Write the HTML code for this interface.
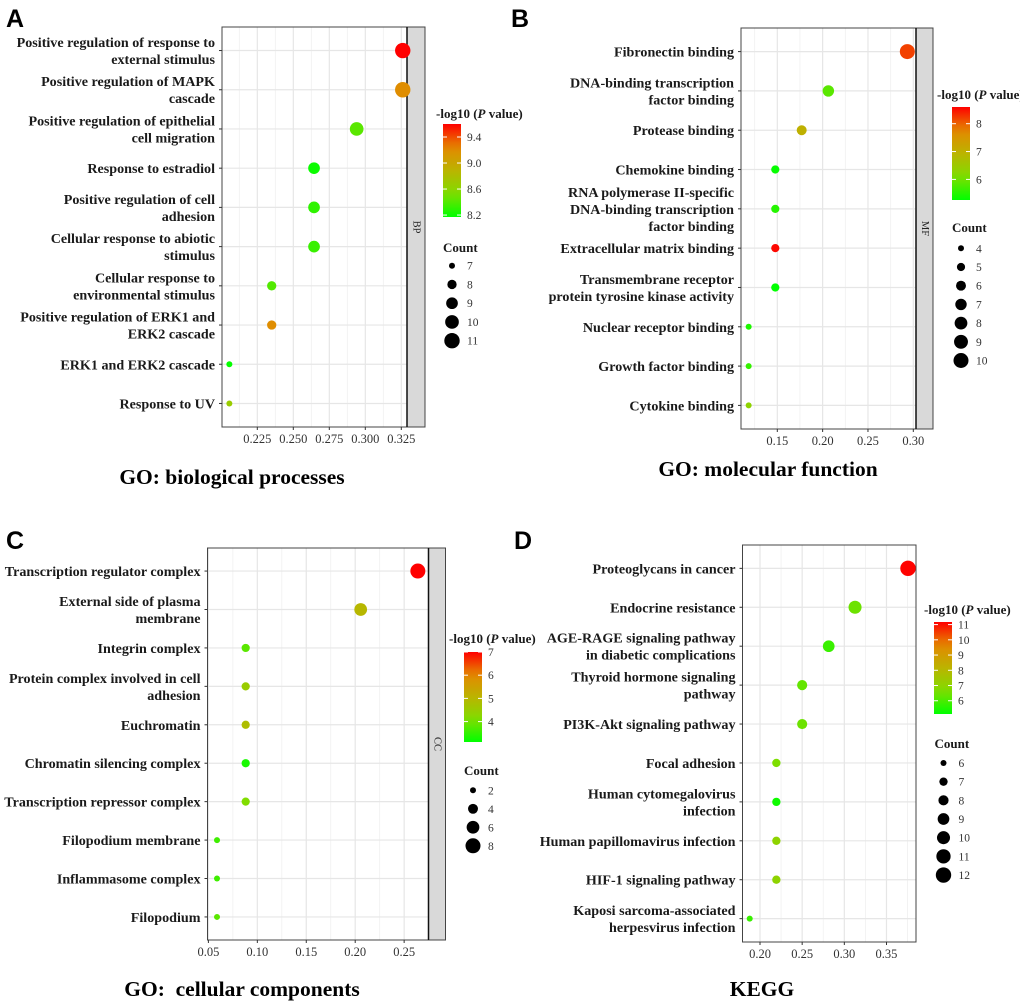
<!DOCTYPE html>
<html><head><meta charset="utf-8"><style>
html,body{margin:0;padding:0;background:#fff;}
svg{display:block;font-family:"Liberation Serif",serif;}
</style></head><body>
<svg id="fig" width="1020" height="1002" viewBox="0 0 1020 1002" xmlns="http://www.w3.org/2000/svg">
<defs id="defs"></defs>
</svg>
<script>
// ---------- DATA ----------
const aLabels = ["Positive regulation of response to|external stimulus","Positive regulation of MAPK|cascade","Positive regulation of epithelial|cell migration","Response to estradiol","Positive regulation of cell|adhesion","Cellular response to abiotic|stimulus","Cellular response to|environmental stimulus","Positive regulation of ERK1 and|ERK2 cascade","ERK1 and ERK2 cascade","Response to UV"];
const aRatio = [0.326,0.326,0.294,0.2644,0.2644,0.2644,0.235,0.235,0.2056,0.2056];
const aCount = [11,11,10,9,9,9,8,8,7,7];
const aLogP = [9.6,9.2,8.42,8.2,8.3,8.33,8.4,9.2,8.18,8.68];
const aTicks = [0.225,0.250,0.275,0.300,0.325];
const aTickLabels = ["0.225","0.250","0.275","0.300","0.325"];
const aColorTicks = [8.2,8.6,9.0,9.4];
const aColorTickLabels = ["8.2","8.6","9.0","9.4"];
const aCountLegend = [7,8,9,10,11];

const bLabels = ["Fibronectin binding","DNA-binding transcription|factor binding","Protease binding","Chemokine binding","RNA polymerase II-specific|DNA-binding transcription|factor binding","Extracellular matrix binding","Transmembrane receptor|protein tyrosine kinase activity","Nuclear receptor binding","Growth factor binding","Cytokine binding"];
const bRatio = [0.2934,0.2063,0.1769,0.1478,0.1478,0.1478,0.1478,0.1184,0.1184,0.1184];
const bCount = [10,7,6,5,5,5,5,4,4,4];
const bLogP = [8.2,5.85,7.0,5.3,5.5,8.55,5.25,5.45,5.6,6.3];
const bTicks = [0.15,0.20,0.25,0.30];
const bTickLabels = ["0.15","0.20","0.25","0.30"];
const bColorTicks = [6,7,8];
const bColorTickLabels = ["6","7","8"];
const bCountLegend = [4,5,6,7,8,9,10];

const cLabels = ["Transcription regulator complex","External side of plasma|membrane","Integrin complex","Protein complex involved in cell|adhesion","Euchromatin","Chromatin silencing complex","Transcription repressor complex","Filopodium membrane","Inflammasome complex","Filopodium"];
const cRatio = [0.264,0.2056,0.0881,0.0881,0.0881,0.0881,0.0881,0.0588,0.0588,0.0588];
const cCount = [8,6,3,3,3,3,3,2,2,2];
const cLogP = [7.0,5.0,3.8,4.5,4.85,3.3,4.1,3.6,3.6,3.8];
const cTicks = [0.05,0.10,0.15,0.20,0.25];
const cTickLabels = ["0.05","0.10","0.15","0.20","0.25"];
const cColorTicks = [4,5,6,7];
const cColorTickLabels = ["4","5","6","7"];
const cCountLegend = [2,4,6,8];

const dLabels = ["Proteoglycans in cancer","Endocrine resistance","AGE-RAGE signaling pathway|in diabetic complications","Thyroid hormone signaling|pathway","PI3K-Akt signaling pathway","Focal adhesion","Human cytomegalovirus|infection","Human papillomavirus infection","HIF-1 signaling pathway","Kaposi sarcoma-associated|herpesvirus infection"];
const dRatio = [0.3755,0.3127,0.2815,0.25,0.25,0.2194,0.2194,0.2194,0.2194,0.1878];
const dCount = [12,10,9,8,8,7,7,7,7,6];
const dLogP = [11.15,6.4,5.8,6.3,6.4,6.6,5.3,7.0,7.0,5.8];
const dTicks = [0.20,0.25,0.30,0.35];
const dTickLabels = ["0.20","0.25","0.30","0.35"];
const dColorTicks = [6,7,8,9,10,11];
const dColorTickLabels = ["6","7","8","9","10","11"];
const dCountLegend = [6,7,8,9,10,11,12];

// ---------- HELPERS ----------
const NS = "http://www.w3.org/2000/svg";
const svg = document.getElementById("fig");
const defs = document.getElementById("defs");
function mk(tag, attrs, parent){
  const e = document.createElementNS(NS, tag);
  for (const k in attrs) e.setAttribute(k, attrs[k]);
  (parent||svg).appendChild(e);
  return e;
}
const stops = [[0,[0,255,0]],[0.25,[128,221,0]],[0.5,[187,180,0]],[0.75,[228,136,0]],[1,[255,0,0]]];
function colorAt(t){
  t = Math.max(0, Math.min(1, t));
  for (let i=1;i<stops.length;i++){
    if (t <= stops[i][0]){
      const a=stops[i-1], b=stops[i], f=(t-a[0])/(b[0]-a[0]);
      const c=a[1].map((v,j)=>Math.round(v+(b[1][j]-v)*f));
      return "rgb("+c.join(",")+")";
    }
  }
  return "rgb(255,0,0)";
}

function drawPanel(p, labels, ratio, count, logp, ticks, tickLabels, cTicksArr, cTickLabs, countLegend){
  const g = mk("g", {});
  
  
  const n = labels.length;
  const step = (p.bottom - p.top) / (n - 1 + 1.2);
  const yOf = i => p.top + (0.6 + i) * step;
  const xOf = v => p.x0 + (v - p.v0) * p.k;
  for (let i=0;i<ticks.length+1;i++){
    const dv = ticks[1]-ticks[0];
    const v = ticks[0] - dv/2 + i*dv;
    const x = xOf(v);
    if (x > p.left && x < p.right) mk("line",{x1:x,x2:x,y1:p.top,y2:p.bottom,stroke:"#f0f0f0","stroke-width":0.8},g);
  }
  ticks.forEach(v=>{
    const x = xOf(v);
    const gl = mk("line",{x1:x,x2:x,y1:p.top,y2:p.bottom,stroke:"#e6e6e6","stroke-width":1.2},g);
    
    
  });
  for (let i=0;i<n;i++){
    const y = yOf(i);
    const gl = mk("line",{x1:p.left,x2:p.right,y1:y,y2:y,stroke:"#e6e6e6","stroke-width":1.2},g);
    
    
  }
  const br = mk("rect",{x:p.left,y:p.top,width:p.right-p.left,height:p.bottom-p.top,fill:"none",stroke:"#444","stroke-width":1},g);
  
  
  if (p.strip){
    const sr = mk("rect",{x:p.right,y:p.top,width:p.stripW,height:p.bottom-p.top,fill:"#d9d9d9",stroke:"#444","stroke-width":1},g);
    
    
    mk("line",{x1:p.right,x2:p.right,y1:p.top,y2:p.bottom,stroke:"#111","stroke-width":1.5},g);
    const cx = p.right + p.stripW/2, cy = (p.top+p.bottom)/2;
    const st = mk("text",{x:cx,y:cy,"font-size":10.5,fill:"#222","text-anchor":"middle","dominant-baseline":"central",transform:`rotate(90 ${cx} ${cy})`},g);
    st.textContent = p.strip;
    
    
  }
  labels.forEach((lab,i)=>{
    const y = yOf(i);
    mk("line",{x1:p.left-3,x2:p.left,y1:y,y2:y,stroke:"#333","stroke-width":1},g);
    const lines = lab.split("|");
    const lh = 17;
    const t = mk("text",{x:p.left-7,y:0,"font-size":14.1,"font-weight":"bold",fill:"#1a1a1a","text-anchor":"end"},g);
    
    
    lines.forEach((ln,j)=>{
      const ts = mk("tspan",{x:p.left-7,y:y - (lines.length-1)*lh/2 + j*lh + 5},t);
      ts.textContent = ln;
    });
  });
  ticks.forEach((v,i)=>{
    const x = xOf(v);
    mk("line",{x1:x,x2:x,y1:p.bottom,y2:p.bottom+3,stroke:"#333","stroke-width":1},g);
    const t = mk("text",{x:x,y:p.bottom+16,"font-size":12.5,fill:"#333","text-anchor":"middle"},g);
    t.textContent = tickLabels[i];
    
    
  });
  const cmin = countLegend[0], cmax = countLegend[countLegend.length-1];
  const rOf = c => Math.sqrt(p.rmin*p.rmin + (p.rmax*p.rmax - p.rmin*p.rmin) * (c - cmin)/(cmax - cmin));
  const colOf = v => colorAt((v - p.cmin)/(p.cmax - p.cmin));
  ratio.forEach((v,i)=>{
    const c = mk("circle",{cx:xOf(v),cy:yOf(i),r:rOf(count[i]),fill:colOf(logp[i])},g);
    
    
  });
  const lt = mk("text",{x:p.lgX,y:p.lgTitleY,"font-size":13,"font-weight":"bold",fill:"#1a1a1a"},g);
  
  
  const s1 = mk("tspan",{},lt); s1.textContent = "-log10 (";
  const s2 = mk("tspan",{"font-style":"italic"},lt); s2.textContent = "P";
  const s3 = mk("tspan",{},lt); s3.textContent = " value)";
  const gid = "grad-"+p.name;
  const lg = mk("linearGradient",{id:gid,x1:0,y1:1,x2:0,y2:0},defs);
  for (let i=0;i<=10;i++) mk("stop",{offset:i/10,"stop-color":colorAt(i/10)},lg);
  const bar = mk("rect",{x:p.barX,y:p.barTop,width:18,height:p.barBot-p.barTop,fill:`url(#${gid})`},g);
  
  
  const yBar = v => p.barBot - (v - p.cmin)/(p.cmax - p.cmin)*(p.barBot - p.barTop);
  cTicksArr.forEach((v,i)=>{
    const y = yBar(v);
    mk("line",{x1:p.barX,x2:p.barX+4,y1:y,y2:y,stroke:"#fff","stroke-width":1},g);
    mk("line",{x1:p.barX+14,x2:p.barX+18,y1:y,y2:y,stroke:"#fff","stroke-width":1},g);
    const t = mk("text",{x:p.barX+24,y:y+4,"font-size":11.5,fill:"#333"},g);
    t.textContent = cTickLabs[i];
    
    
  });
  const ct = mk("text",{x:p.cntX-9,y:p.cntTitleY,"font-size":13,"font-weight":"bold",fill:"#1a1a1a"},g);
  ct.textContent = "Count";
  
  
  countLegend.forEach((c,i)=>{
    const y = p.cntY0 + i*p.cntStep;
    const ci = mk("circle",{cx:p.cntX,cy:y,r:rOf(c),fill:"#000"},g);
    
    
    const t = mk("text",{x:p.cntX+15,y:y+4,"font-size":11.5,fill:"#333"},g);
    t.textContent = c;
    
    
  });
}

drawPanel({name:"bp",left:222,right:407,top:27,bottom:427,strip:"BP",stripW:18,x0:257.3,v0:0.225,k:1440,rmin:3,rmax:7.7,
  cmin:8.17,cmax:9.6,lgX:436,lgTitleY:118,barX:443,barTop:124,barBot:217,cntX:452,cntTitleY:252,cntY0:265.7,cntStep:18.75},
  aLabels,aRatio,aCount,aLogP,aTicks,aTickLabels,aColorTicks,aColorTickLabels,aCountLegend);
drawPanel({name:"mf",left:741,right:916,top:28,bottom:429,strip:"MF",stripW:17,x0:777.3,v0:0.15,k:906.7,rmin:3,rmax:7.5,
  cmin:5.26,cmax:8.6,lgX:937,lgTitleY:99,barX:952,barTop:107,barBot:200,cntX:961,cntTitleY:232,cntY0:248.3,cntStep:18.7},
  bLabels,bRatio,bCount,bLogP,bTicks,bTickLabels,bColorTicks,bColorTickLabels,bCountLegend);
drawPanel({name:"cc",left:207.5,right:428.5,top:548,bottom:940,strip:"CC",stripW:17,x0:208.4,v0:0.05,k:978.7,rmin:3,rmax:7.5,
  cmin:3.12,cmax:7.0,lgX:449,lgTitleY:643,barX:464,barTop:652,barBot:742,cntX:473,cntTitleY:775,cntY0:790.3,cntStep:18.5},
  cLabels,cRatio,cCount,cLogP,cTicks,cTickLabels,cColorTicks,cColorTickLabels,cCountLegend);
drawPanel({name:"kegg",left:742.5,right:916,top:545,bottom:942,strip:null,stripW:0,x0:760,v0:0.20,k:843.3,rmin:3,rmax:7.7,
  cmin:5.13,cmax:11.17,lgX:924,lgTitleY:614,barX:934,barTop:622,barBot:714,cntX:943.5,cntTitleY:748,cntY0:763,cntStep:18.67},
  dLabels,dRatio,dCount,dLogP,dTicks,dTickLabels,dColorTicks,dColorTickLabels,dCountLegend);

[["A",6,27],["B",511,27],["C",6,549],["D",514,549]].forEach(a=>{
  const t = mk("text",{x:a[1],y:a[2],"font-size":25,"font-weight":"bold","font-family":"Liberation Sans, sans-serif",fill:"#000"});
  t.textContent = a[0];
  
  
});
[["GO: biological processes",232,484],["GO: molecular function",768,476],["GO:  cellular components",242,996],["KEGG",762,996]].forEach(a=>{
  const t = mk("text",{x:a[1],y:a[2],"font-size":21.5,"font-weight":"bold",fill:"#000","text-anchor":"middle"});
  t.setAttribute("style","white-space:pre");
  t.textContent = a[0];
  
  
});
</script>
</body></html>
